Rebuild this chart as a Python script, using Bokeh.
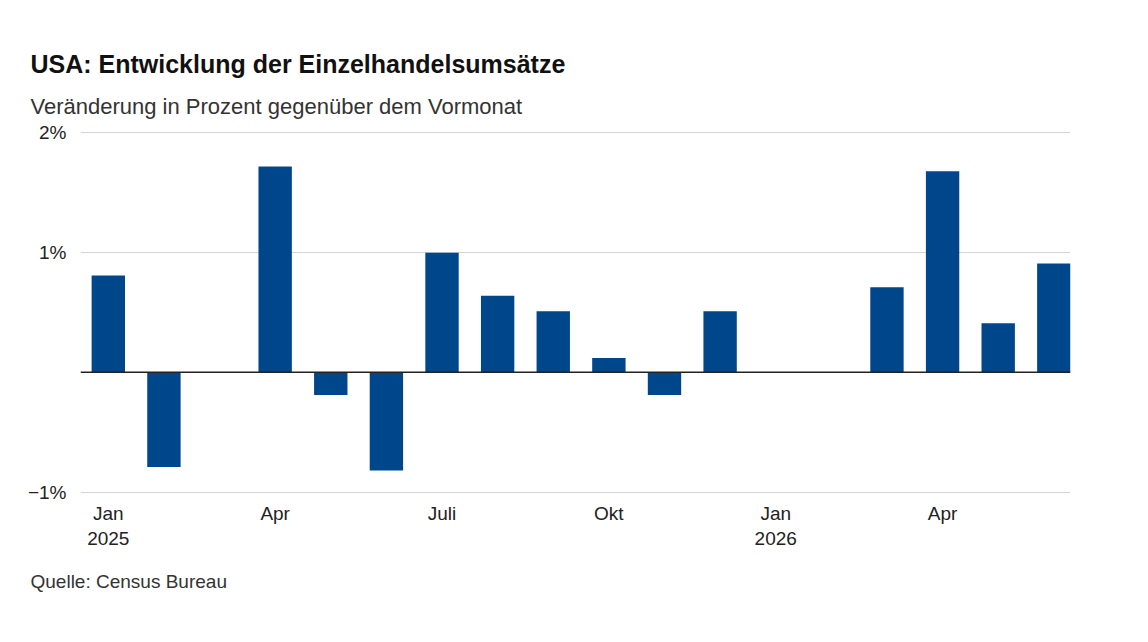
from bokeh.plotting import figure
from bokeh.models import ColumnDataSource, FixedTicker, Span, Title
from bokeh.embed import file_html
from bokeh.resources import INLINE

# ---- data ----
months = ["Jan 2025", "Feb 2025", "Mär 2025", "Apr 2025", "Mai 2025", "Jun 2025",
          "Jul 2025", "Aug 2025", "Sep 2025", "Okt 2025", "Nov 2025", "Dez 2025",
          "Jan 2026", "Feb 2026", "Mär 2026", "Apr 2026", "Mai 2026", "Jun 2026"]
values = [0.81, -0.79, 0.0, 1.72, -0.19, -0.82,
          1.0, 0.64, 0.51, 0.12, -0.19, 0.51,
          0.0, 0.0, 0.71, 1.68, 0.41, 0.91]
x_tick_months = ["Jan 2025", "Apr 2025", "Jul 2025", "Okt 2025", "Jan 2026", "Apr 2026"]
x_tick_labels = ["Jan\n2025", "Apr", "Juli", "Okt", "Jan\n2026", "Apr"]
y_ticks = [-1, 1, 2]
y_tick_labels = ["−1%", "1%", "2%"]

title_text = "USA: Entwicklung der Einzelhandelsumsätze"
subtitle_text = "Veränderung in Prozent gegenüber dem Vormonat"
source_text = "Quelle: Census Bureau"

FONT = "Liberation Sans"
BAR = "#00468b"
TXT = "#222222"

idx = list(range(len(months)))
src = ColumnDataSource(data=dict(x=idx, top=values, month=months))

p = figure(width=1132, height=626, x_range=(-0.5, len(months) - 0.7),
           y_range=(-1.02, 2.02), output_backend="svg", toolbar_location=None,
           min_border_left=80, min_border_right=62, min_border_top=130,
           min_border_bottom=132, background_fill_color="white",
           border_fill_color="white", outline_line_color=None)

p.vbar(x="x", top="top", width=0.6, source=src, fill_color=BAR, line_color=None)

p.add_layout(Span(location=0, dimension="width", line_color="#222222", line_width=1.5))

# y axis
p.yaxis.ticker = FixedTicker(ticks=y_ticks)
p.yaxis.major_label_overrides = {t: l for t, l in zip(y_ticks, y_tick_labels)}
p.yaxis.axis_line_color = None
p.yaxis.major_tick_line_color = None
p.yaxis.minor_tick_line_color = None
p.yaxis.major_label_standoff = 8
p.yaxis.major_label_text_font = FONT
p.yaxis.major_label_text_font_size = "19px"
p.yaxis.major_label_text_color = TXT
p.ygrid.ticker = FixedTicker(ticks=y_ticks)
p.ygrid.grid_line_color = "#d4d4d4"
p.ygrid.grid_line_width = 1

# x axis
tick_pos = [months.index(m) for m in x_tick_months]
p.xaxis.ticker = FixedTicker(ticks=tick_pos)
p.xaxis.major_label_overrides = {t: l for t, l in zip(tick_pos, x_tick_labels)}
p.xaxis.axis_line_color = None
p.xaxis.major_tick_line_color = None
p.xaxis.minor_tick_line_color = None
p.xaxis.major_label_standoff = 2
p.xaxis.major_label_text_font = FONT
p.xaxis.major_label_text_font_size = "19px"
p.xaxis.major_label_text_color = TXT
p.xgrid.grid_line_color = None

# titles
sub = Title(text=subtitle_text, align="left", offset=-50, standoff=24,
            text_font=FONT, text_font_size="22px", text_font_style="normal",
            text_color="#333333")
ttl = Title(text=title_text, align="left", offset=-50, standoff=4,
            text_font=FONT, text_font_size="25px", text_font_style="bold",
            text_color="#111111")
p.add_layout(sub, "above")
p.add_layout(ttl, "above")

srct = Title(text=source_text, align="left", offset=-50, standoff=34,
             text_font=FONT, text_font_size="19px", text_font_style="normal",
             text_color="#333333")
p.add_layout(srct, "below")

open("out.html", "w").write(file_html(p, INLINE))
